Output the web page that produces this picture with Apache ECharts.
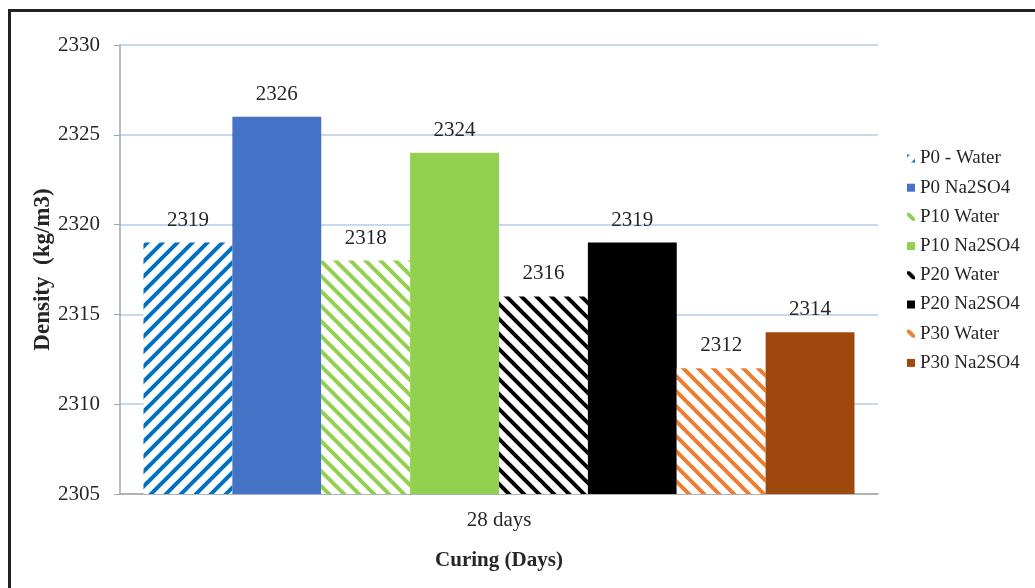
<!DOCTYPE html>
<html>
<head>
<meta charset="utf-8">
<script src="https://cdn.jsdelivr.net/npm/echarts@6/dist/echarts.min.js"></script>
<style>
html,body{margin:0;padding:0;background:#fff;}
#main{width:1035px;height:588px;}
</style>
</head>
<body>
<div id="main"></div>
<script>
var categories = ['28 days'];
var seriesNames = ['P0 - Water','P0 Na2SO4','P10 Water','P10 Na2SO4','P20 Water','P20 Na2SO4','P30 Water','P30 Na2SO4'];
var seriesValues = [2319, 2326, 2318, 2324, 2316, 2319, 2312, 2314];
var seriesColors = ['#0070c0','#4472c4','#92d050','#92d050','#000000','#000000','#ed7d31','#9e480e'];
var hatched = [true,false,true,false,true,false,true,false];
var hatchDir = ['/','', '\\','', '\\','', '\\',''];
var yTicks = [2305, 2310, 2315, 2320, 2325, 2330];

function makePattern(color, dir){
  var s = 15;
  var c = document.createElement('canvas');
  c.width = s; c.height = s;
  var g = c.getContext('2d');
  g.fillStyle = '#fff';
  g.fillRect(0,0,s,s);
  g.strokeStyle = color;
  g.lineWidth = 4;
  g.beginPath();
  if (dir === '/') {
    g.moveTo(-s, s); g.lineTo(s, -s);
    g.moveTo(0, s); g.lineTo(s, 0);
    g.moveTo(0, 2*s); g.lineTo(2*s, 0);
  } else {
    g.moveTo(0, 0); g.lineTo(s, s);
    g.moveTo(-s, 0); g.lineTo(s, 2*s);
    g.moveTo(0, -s); g.lineTo(2*s, s);
  }
  g.stroke();
  return {image: c, repeat: 'repeat'};
}

var font = 'Liberation Serif';
var txt = '#262626';
var series = seriesNames.map(function(n, i){
  return {
    name: n,
    type: 'bar',
    data: [seriesValues[i]],
    barGap: '0%',
    barCategoryGap: '6.2%',
    itemStyle: { color: hatched[i] ? makePattern(seriesColors[i], hatchDir[i]) : seriesColors[i] },
    label: { show: true, position: 'top', distance: 12, fontFamily: font, fontSize: 21, color: txt }
  };
});

var chart = echarts.init(document.getElementById('main'));
chart.setOption({
  animation: false,
  backgroundColor: '#fff',
  grid: { left: 120, right: 157, top: 45, bottom: 94 },
  legend: {
    orient: 'vertical',
    left: 907,
    top: 149,
    padding: 0,
    itemWidth: 8,
    itemHeight: 8,
    itemGap: 10.2,
    icon: 'rect',
    textStyle: { fontFamily: font, fontSize: 19, color: txt },
    data: seriesNames
  },
  xAxis: {
    type: 'category',
    data: categories,
    name: 'Curing (Days)',
    nameLocation: 'middle',
    nameGap: 56,
    nameMoveOverlap: false,
    nameTextStyle: { fontFamily: font, fontSize: 21, fontWeight: 'bold', color: txt },
    axisLine: { lineStyle: { color: '#a6a6a6', width: 1.5 } },
    axisTick: { show: false },
    axisLabel: { fontFamily: font, fontSize: 21, color: txt, margin: 16 }
  },
  yAxis: {
    type: 'value',
    min: yTicks[0],
    max: yTicks[yTicks.length-1],
    interval: 5,
    name: 'Density  (kg/m3)',
    nameLocation: 'middle',
    nameGap: 65,
    nameMoveOverlap: false,
    nameTextStyle: { fontFamily: font, fontSize: 23, fontWeight: 'bold', color: txt },
    axisLine: { show: true, lineStyle: { color: '#a6a6a6', width: 1.5 } },
    axisTick: { show: true, length: 6, lineStyle: { color: '#a6a6a6' } },
    axisLabel: { fontFamily: font, fontSize: 21, color: txt, margin: 20, formatter: function(v){ return String(v); } },
    splitLine: { lineStyle: { color: '#c6d9f1', width: 2 } }
  },
  graphic: [{
    type: 'rect',
    shape: { x: 9.5, y: 10.5, width: 1100, height: 700 },
    style: { fill: null, stroke: '#222', lineWidth: 3 },
    silent: true
  }],
  series: series
});
</script>
</body>
</html>
